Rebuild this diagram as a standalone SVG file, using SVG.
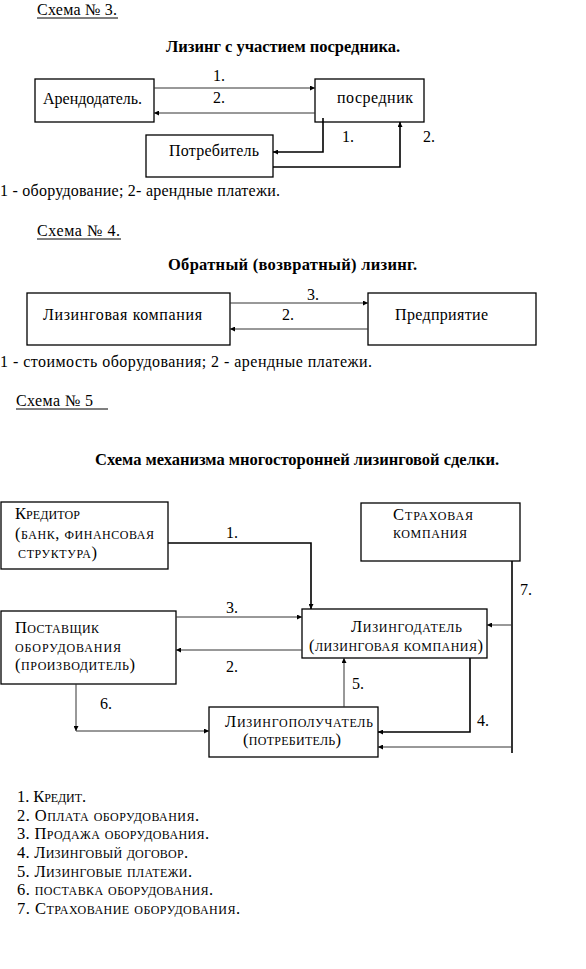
<svg xmlns="http://www.w3.org/2000/svg" width="586" height="969" viewBox="0 0 586 969">
<style>
text{font-family:"Liberation Serif","Times New Roman",serif;font-size:16px;fill:#000}
.b{font-weight:bold;font-size:16.5px}
.sc text{font-variant:small-caps;font-size:16.5px}
.box{fill:#fff;stroke:#000;stroke-width:1.3}
.c{fill:none;stroke:#333;stroke-width:1}
.k{fill:none;stroke:#000;stroke-width:1.6}
.u{stroke:#000;stroke-width:1}
</style>
<defs>
<marker id="a" markerUnits="userSpaceOnUse" markerWidth="6" markerHeight="5" refX="5" refY="2.5" orient="auto">
<path d="M0,0 L5,2.5 L0,5 z" fill="#000"/>
</marker>
</defs>

<!-- Scheme 3 -->
<g id="s3-header">
<text x="37" y="15" textLength="80">Схема № 3.</text>
<line class="u" x1="37" y1="18" x2="118" y2="18"/>
<text class="b" x="166" y="52" textLength="234">Лизинг с участием посредника.</text>
</g>
<g id="arendodatel"><rect class="box" x="35" y="79" width="119" height="43"/><text x="43" y="104" textLength="99">Арендодатель.</text></g>
<g id="posrednik"><rect class="box" x="315" y="79" width="109" height="43"/><text x="337" y="103" textLength="76">посредник</text></g>
<g id="potrebitel"><rect class="box" x="146" y="135" width="127" height="42"/><text x="169" y="156" textLength="90">Потребитель</text></g>
<g id="s3-connectors">
<line class="c" x1="154" y1="88" x2="315" y2="88" marker-end="url(#a)"/>
<line class="c" x1="315" y1="113" x2="154" y2="113" marker-end="url(#a)"/>
<polyline class="k" points="323,118 323,152 273,152" marker-end="url(#a)"/>
<polyline class="k" points="273,167 400,167 400,122" marker-end="url(#a)"/>
<text x="213" y="81">1.</text>
<text x="213" y="103">2.</text>
<text x="342" y="142">1.</text>
<text x="423" y="142">2.</text>
</g>
<text x="0" y="196" textLength="280">1 - оборудование; 2- арендные платежи.</text>

<!-- Scheme 4 -->
<g id="s4-header">
<text x="37" y="236" textLength="83">Схема № 4.</text>
<line class="u" x1="37" y1="239" x2="121" y2="239"/>
<text class="b" x="168" y="270" textLength="249">Обратный (возвратный) лизинг.</text>
</g>
<g id="lizing-kompaniya"><rect class="box" x="27" y="293" width="203" height="52"/><text x="43" y="320" textLength="159">Лизинговая компания</text></g>
<g id="predpriyatie"><rect class="box" x="368" y="293" width="168" height="52"/><text x="395" y="320" textLength="93">Предприятие</text></g>
<g id="s4-connectors">
<line class="c" x1="230" y1="303" x2="368" y2="303" marker-end="url(#a)"/>
<line class="c" x1="368" y1="329" x2="230" y2="329" marker-end="url(#a)"/>
<text x="307" y="300">3.</text>
<text x="282" y="320">2.</text>
</g>
<text x="0" y="367" textLength="372">1 - стоимость оборудования; 2 - арендные платежи.</text>

<!-- Scheme 5 -->
<g id="s5-header">
<text x="16" y="406" textLength="77">Схема № 5</text>
<line class="u" x1="16" y1="409" x2="108" y2="409"/>
<text class="b" x="95" y="465" textLength="404">Схема механизма многосторонней лизинговой сделки.</text>
</g>
<g id="kreditor" class="sc"><rect class="box" x="1" y="502" width="167" height="67"/>
<text x="15" y="519" textLength="65">Кредитор</text><text x="15" y="539" textLength="139">(банк, финансовая</text><text x="18" y="558" textLength="79">структура)</text></g>
<g id="strakhovaya" class="sc"><rect class="box" x="361" y="503" width="159" height="58"/>
<text x="393" y="520" textLength="80">Страховая</text><text x="393" y="538" textLength="74">компания</text></g>
<g id="postavshchik" class="sc"><rect class="box" x="1" y="611" width="175" height="73"/>
<text x="15" y="633" textLength="84">Поставщик</text><text x="15" y="652" textLength="106">оборудования</text><text x="15" y="670" textLength="120">(производитель)</text></g>
<g id="lizingodatel" class="sc"><rect class="box" x="302" y="609" width="185" height="49"/>
<text x="351" y="632" textLength="111">Лизингодатель</text><text x="309" y="651" textLength="174">(лизинговая компания)</text></g>
<g id="lizingopoluchatel" class="sc"><rect class="box" x="209" y="707" width="169" height="50"/>
<text x="225" y="727" textLength="148">Лизингополучатель</text><text x="243" y="745" textLength="98">(потребитель)</text></g>
<g id="s5-connectors">
<polyline class="k" points="168,543 311,543 311,609" marker-end="url(#a)"/>
<line class="c" x1="176" y1="617" x2="302" y2="617" marker-end="url(#a)"/>
<line class="c" x1="302" y1="650" x2="176" y2="650" marker-end="url(#a)"/>
<line class="c" x1="76" y1="684" x2="76" y2="731" marker-end="url(#a)"/>
<line class="c" x1="76" y1="731" x2="209" y2="731" marker-end="url(#a)"/>
<line class="c" x1="344" y1="707" x2="344" y2="658" marker-end="url(#a)"/>
<polyline class="k" points="470,658 470,732 378,732" marker-end="url(#a)"/>
<line class="k" x1="512" y1="561" x2="512" y2="753"/>
<line class="c" x1="512" y1="625" x2="487" y2="625" marker-end="url(#a)"/>
<line class="c" x1="512" y1="747" x2="378" y2="747" marker-end="url(#a)"/>
<text x="226" y="538">1.</text>
<text x="226" y="613">3.</text>
<text x="226" y="672">2.</text>
<text x="100" y="709">6.</text>
<text x="352" y="689">5.</text>
<text x="477" y="726">4.</text>
<text x="520" y="595">7.</text>
</g>
<g id="legend" class="sc">
<text x="17" y="802" textLength="69">1. Кредит.</text>
<text x="17" y="821" textLength="182">2. Оплата оборудования.</text>
<text x="17" y="839" textLength="192">3. Продажа оборудования.</text>
<text x="17" y="858" textLength="171">4. Лизинговый договор.</text>
<text x="17" y="877" textLength="175">5. Лизинговые платежи.</text>
<text x="17" y="895" textLength="196">6. поставка оборудования.</text>
<text x="17" y="914" textLength="223">7. Страхование оборудования.</text>
</g>
</svg>
